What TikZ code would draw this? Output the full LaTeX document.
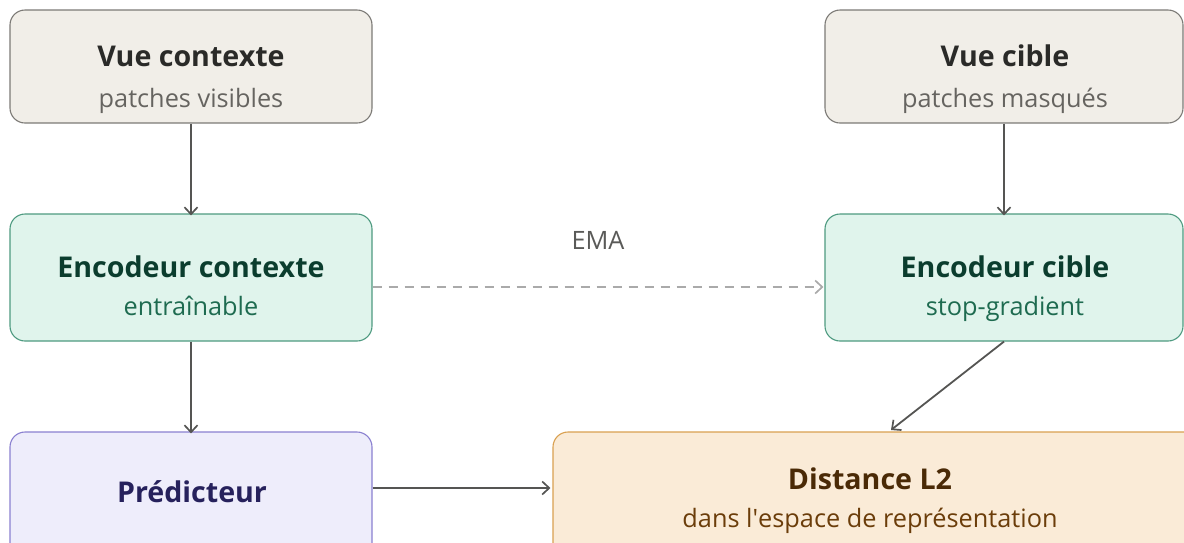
\documentclass[tikz,border=0pt]{standalone}
\usepackage{fontspec}
\setmainfont{Open Sans}
\usetikzlibrary{arrows.meta}
\definecolor{vfill}{HTML}{F1EEE8}
\definecolor{vdraw}{HTML}{7C7A76}
\definecolor{vtitle}{HTML}{2A2A28}
\definecolor{vsub}{HTML}{666460}
\definecolor{efill}{HTML}{E0F4EC}
\definecolor{edraw}{HTML}{4E9A80}
\definecolor{etitle}{HTML}{0B3D2E}
\definecolor{esub}{HTML}{1E6B50}
\definecolor{pfill}{HTML}{EEEDFB}
\definecolor{pdraw}{HTML}{8A80D0}
\definecolor{ptitle}{HTML}{26215C}
\definecolor{dfill}{HTML}{FAEBD7}
\definecolor{ddraw}{HTML}{D9A050}
\definecolor{dtitle}{HTML}{4A2A06}
\definecolor{dsub}{HTML}{6B3D0A}
\definecolor{arr}{HTML}{555553}
\definecolor{dashc}{HTML}{AAAAAA}
\definecolor{ematext}{HTML}{5A5A58}
\tikzset{
  boxbase/.style={rectangle, rounded corners=15pt, line width=1.1pt, inner sep=0pt},
  vbox/.style={boxbase, draw=vdraw, fill=vfill},
  ebox/.style={boxbase, draw=edraw, fill=efill},
  pbox/.style={boxbase, draw=pdraw, fill=pfill},
  dbox/.style={boxbase, draw=ddraw, fill=dfill},
  ttl/.style={anchor=base, inner sep=0pt, font=\fontsize{28.6}{32}\selectfont\bfseries},
  sub/.style={anchor=base, inner sep=0pt, font=\fontsize{25.3}{29}\selectfont},
  conn/.style={draw=arr, line width=1.8pt, -{Straight Barb[length=7pt,width=13pt,line width=1.7pt]}},
  emaconn/.style={draw=dashc, line width=1.9pt, dash pattern=on 9pt off 7pt, -{Straight Barb[length=7pt,width=13pt,line width=1.7pt]}},
}
\begin{document}
\begin{tikzpicture}[x=1pt,y=-1pt]
\useasboundingbox (0,0) rectangle (1184,542);
\clip (0,0) rectangle (1184,542);
% boxes
\node[vbox, minimum width=362pt, minimum height=113pt] (vc) at (191,66.5) {};
\node[vbox, minimum width=358pt, minimum height=113pt] (vt) at (1004,66.5) {};
\node[ebox, minimum width=362pt, minimum height=127pt] (ec) at (191,277.5) {};
\node[ebox, minimum width=358pt, minimum height=127pt] (et) at (1004,277.5) {};
\node[pbox, minimum width=362pt, minimum height=128pt] (pr) at (191,496) {};
\node[dbox, minimum width=647pt, minimum height=138pt] (di) at (876.5,501) {};
% texts
\node[ttl, text=vtitle] (vct) at (191,66) {Vue contexte};
\node[sub, text=vsub] (vcs) at (191,107) {patches visibles};
\node[ttl, text=vtitle] (vtt) at (1005,66) {Vue cible};
\node[sub, text=vsub] (vts) at (1005,107) {patches masqués};
\node[ttl, text=etitle] (ect) at (191,277) {Encodeur contexte};
\node[sub, text=esub] (ecs) at (191,315) {entraînable};
\node[ttl, text=etitle] (ett) at (1005,277) {Encodeur cible};
\node[sub, text=esub] (ets) at (1005,315) {stop-gradient};
\node[ttl, text=ptitle] (prt) at (192,502) {Prédicteur};
\node[ttl, text=dtitle] (dit) at (870,489) {Distance L2};
\node[sub, text=dsub] (dis) at (870,527) {dans l\textquotesingle espace de représentation};
\node[sub, text=ematext] (ema) at (598,249) {EMA};
% connectors
\coordinate (dtop) at (891,430);
\draw[conn] (vc.south) -- ([yshift=-2pt]ec.north);
\draw[conn] (vt.south) -- ([yshift=-2pt]et.north);
\draw[conn] (ec.south) -- ([yshift=-2pt]pr.north);
\draw[conn] (pr.east |- 0,488) -- ([xshift=-2pt]di.west |- 0,488);
\draw[conn] (et.south) -- (dtop);
\draw[emaconn] (ec.east |- 0,287) -- ([xshift=-1pt]et.west |- 0,287);
\end{tikzpicture}
\end{document}
